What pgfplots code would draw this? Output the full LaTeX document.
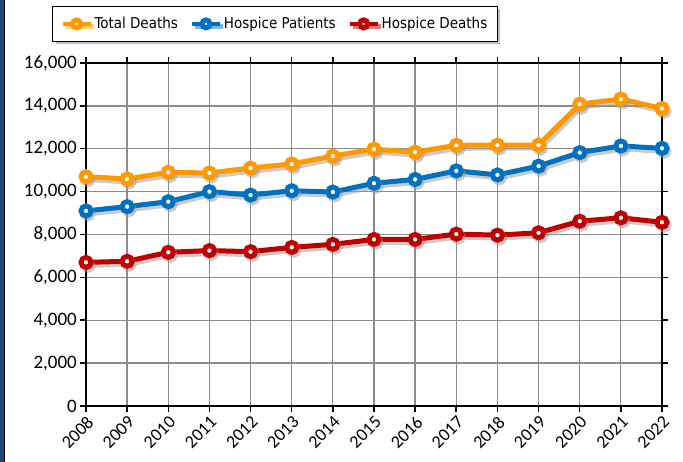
\documentclass[border=0pt]{standalone}
\usepackage{pgfplots}
\pgfplotsset{compat=1.18}
\usepackage{fontspec}
\setmainfont{Carlito}
\newfontfamily\legfont{DejaVu Sans Condensed}
\usetikzlibrary{shadows}
\definecolor{cOrange}{RGB}{255,153,0}
\definecolor{cBlue}{RGB}{0,112,192}
\definecolor{cRed}{RGB}{192,0,0}
\definecolor{cNavy}{RGB}{28,72,112}
\begin{document}
\begin{tikzpicture}
\path[use as bounding box, fill=white] (0,0) rectangle (683pt,462pt);
\fill[cNavy] (0,0) rectangle (4pt,462pt);
\draw[black, line width=1pt] (4.5pt,0) -- (4.5pt,462pt);
\begin{axis}[
  at={(86pt,56pt)}, anchor=south west,
  scale only axis, width=576pt, height=343pt,
  xmin=2008, xmax=2022, ymin=0, ymax=16000,
  xtick={2008,...,2022}, ytick={0,2000,...,16000},
  xticklabel={\fontsize{18}{18}\selectfont\pgfmathprintnumber[assume math mode=true,1000 sep={}]{\tick}},
  yticklabel={\fontsize{19}{19}\selectfont\pgfmathprintnumber[assume math mode=true,1000 sep={,}]{\tick}},
  xticklabel style={rotate=45, anchor=north east, inner sep=2pt},
  yticklabel style={inner sep=3pt},
  scaled y ticks=false,
  grid=major, grid style={black!45, line width=1.3pt},
  axis line style={black, line width=2pt},
  tick align=outside, major tick length=6pt,
  tick style={black, line width=1.5pt},
  legend columns=3,
  legend style={at={(0.328,1.114)}, anchor=center, draw=black, line width=1pt, fill=white,
    drop shadow={shadow xshift=3pt, shadow yshift=-3pt, opacity=0.5},
    font=\legfont\fontsize{15}{15}\selectfont, inner xsep=8pt, inner ysep=9pt,
    /tikz/every even column/.append style={column sep=10pt}},
  legend image code/.code={
    \draw[#1, mark=none, line width=4pt] (0pt,0pt) -- (28pt,0pt);
    \draw[#1, mark size=4pt, line width=3.5pt] plot coordinates {(14pt,0pt)};
  },
]
% shadows
\addplot[black!40, opacity=0.5, line width=5pt, mark=*, mark size=5pt, xshift=2pt, yshift=-3pt, forget plot] coordinates {
(2008,10700)(2009,10590)(2010,10900)(2011,10870)(2012,11100)(2013,11290)(2014,11660)(2015,11980)(2016,11840)(2017,12160)(2018,12170)(2019,12170)(2020,14080)(2021,14320)(2022,13880)};
\addplot[black!40, opacity=0.5, line width=5pt, mark=*, mark size=5pt, xshift=2pt, yshift=-3pt, forget plot] coordinates {
(2008,9100)(2009,9300)(2010,9530)(2011,10000)(2012,9840)(2013,10040)(2014,9980)(2015,10390)(2016,10570)(2017,10970)(2018,10780)(2019,11190)(2020,11820)(2021,12130)(2022,12020)};
\addplot[black!40, opacity=0.5, line width=5pt, mark=*, mark size=5pt, xshift=2pt, yshift=-3pt, forget plot] coordinates {
(2008,6700)(2009,6750)(2010,7170)(2011,7250)(2012,7200)(2013,7400)(2014,7540)(2015,7770)(2016,7770)(2017,8020)(2018,7970)(2019,8080)(2020,8620)(2021,8780)(2022,8570)};
% data
\addplot[cOrange, line width=5pt, mark=*, mark size=5pt, mark options={fill=white, draw=cOrange, line width=5pt}] coordinates {
(2008,10700)(2009,10590)(2010,10900)(2011,10870)(2012,11100)(2013,11290)(2014,11660)(2015,11980)(2016,11840)(2017,12160)(2018,12170)(2019,12170)(2020,14080)(2021,14320)(2022,13880)};
\addlegendentry{Total Deaths}
\addplot[cBlue, line width=5pt, mark=*, mark size=5pt, mark options={fill=white, draw=cBlue, line width=5pt}] coordinates {
(2008,9100)(2009,9300)(2010,9530)(2011,10000)(2012,9840)(2013,10040)(2014,9980)(2015,10390)(2016,10570)(2017,10970)(2018,10780)(2019,11190)(2020,11820)(2021,12130)(2022,12020)};
\addlegendentry{Hospice Patients}
\addplot[cRed, line width=5pt, mark=*, mark size=5pt, mark options={fill=white, draw=cRed, line width=5pt}] coordinates {
(2008,6700)(2009,6750)(2010,7170)(2011,7250)(2012,7200)(2013,7400)(2014,7540)(2015,7770)(2016,7770)(2017,8020)(2018,7970)(2019,8080)(2020,8620)(2021,8780)(2022,8570)};
\addlegendentry{Hospice Deaths}
\end{axis}
\end{tikzpicture}
\end{document}
